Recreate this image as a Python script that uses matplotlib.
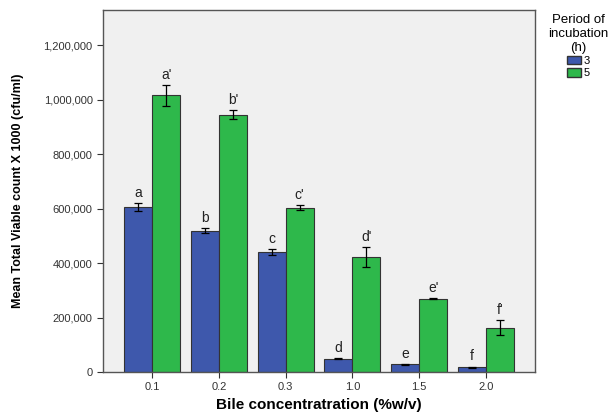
import numpy as np
import matplotlib
matplotlib.use("Agg")
import matplotlib.pyplot as plt
from matplotlib.ticker import FuncFormatter
from matplotlib.patches import Patch

# data
concentrations = ["0.1", "0.2", "0.3", "1.0", "1.5", "2.0"]
mean_3h = [606000, 519000, 440000, 49000, 28000, 17000]
err_3h = [15000, 10000, 12000, 2500, 1500, 3000]
mean_5h = [1016000, 946000, 604000, 422000, 269000, 163000]
err_5h = [38000, 15000, 10000, 38000, 1500, 28000]
letters_3h = ["a", "b", "c", "d", "e", "f"]
letters_5h = ["a'", "b'", "c'", "d'", "e'", "f'"]

blue = "#3E58AC"
green = "#2EB84B"

plt.rcParams['font.family'] = ['Liberation Sans', 'DejaVu Sans']

fig = plt.figure(figsize=(6.11, 4.13), dpi=100)
ax = fig.add_axes([0.1686, 0.0993, 0.707, 0.8765])
ax.set_facecolor("#F0F0F0")

x = np.arange(len(concentrations))
w = 0.42
ax.bar(x - w/2, mean_3h, w, color=blue, edgecolor="#333333", linewidth=0.8, zorder=2)
ax.bar(x + w/2, mean_5h, w, color=green, edgecolor="#333333", linewidth=0.8, zorder=2)
ax.errorbar(x - w/2, mean_3h, yerr=err_3h, fmt="none", ecolor="black", elinewidth=0.9, capsize=3, capthick=0.9, zorder=3)
ax.errorbar(x + w/2, mean_5h, yerr=err_5h, fmt="none", ecolor="black", elinewidth=0.9, capsize=3, capthick=0.9, zorder=3)

for i in range(len(x)):
    ax.text(x[i] - w/2, mean_3h[i] + err_3h[i] + 12000, letters_3h[i], ha="center", va="bottom", fontsize=10, color="#222222")
    ax.text(x[i] + w/2, mean_5h[i] + err_5h[i] + 12000, letters_5h[i], ha="center", va="bottom", fontsize=10, color="#222222")

ax.set_xlim(-0.735, 5.735)
ax.set_ylim(0, 1330000)
ax.set_xticks(x)
ax.set_xticklabels(concentrations)
ax.set_yticks(np.arange(0, 1200001, 200000))
ax.yaxis.set_major_formatter(FuncFormatter(lambda v, p: "{:,.0f}".format(v)))
ax.tick_params(labelsize=8, colors="#333333", length=4, width=0.8)

for s in ax.spines.values():
    s.set_color("#555555")
    s.set_linewidth(1.0)

ax.set_xlabel("Bile concentratration (%w/v)", fontsize=11, fontweight="bold", labelpad=4)
ax.set_ylabel("Mean Total Viable count X 1000 (cfu/ml)", fontsize=9, fontweight="bold", labelpad=14)

handles = [Patch(facecolor=blue, edgecolor="#333333", label="3"),
           Patch(facecolor=green, edgecolor="#333333", label="5")]
leg = fig.legend(handles=handles, title="Period of\nincubation\n(h)", loc="upper left",
                 bbox_to_anchor=(0.885, 0.985), frameon=False, fontsize=8,
                 title_fontsize=9.5, handlelength=1.2, handleheight=0.8, handletextpad=0.3,
                 labelspacing=0.2, borderpad=0.2)
leg.get_title().set_multialignment("center")

fig.savefig("out.png", dpi=100)
